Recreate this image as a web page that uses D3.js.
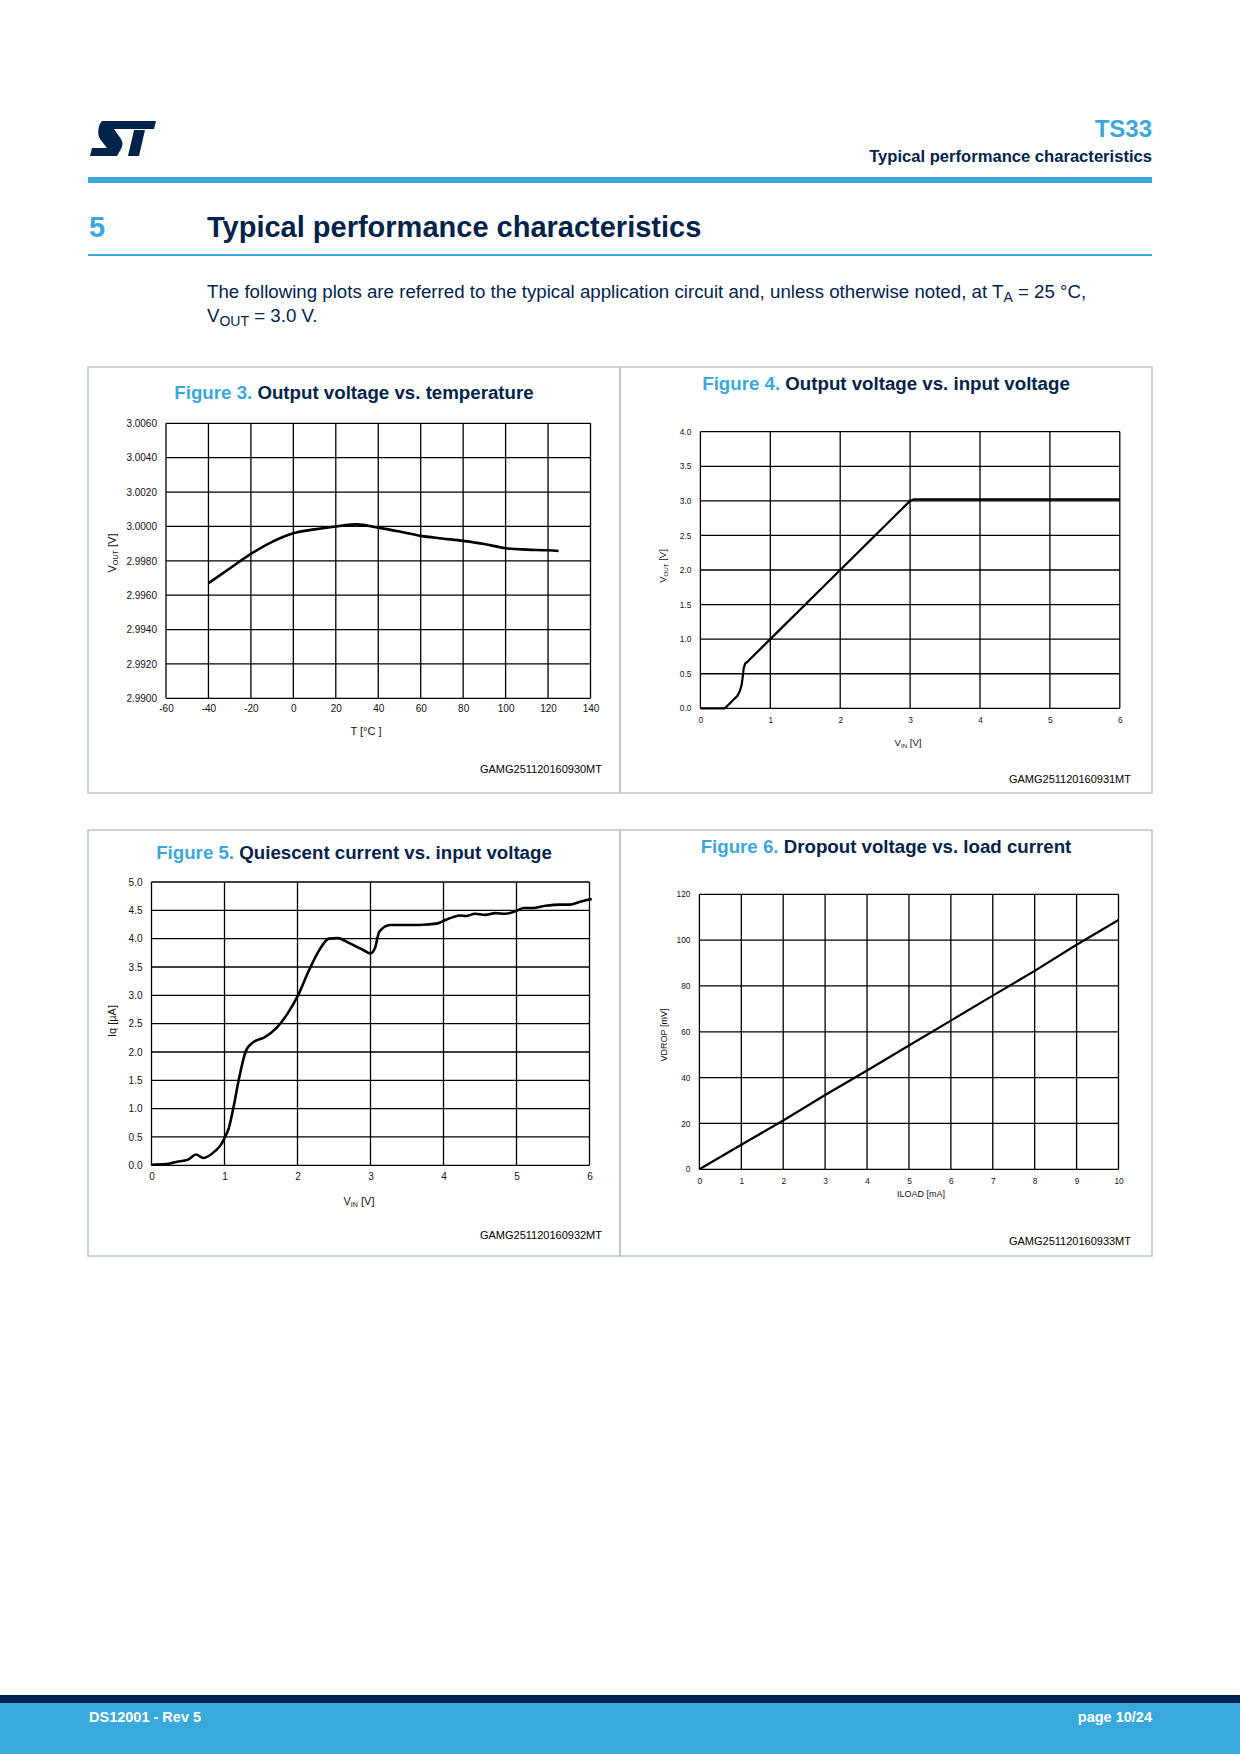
<!DOCTYPE html>
<html>
<head>
<meta charset="utf-8">
<script src="https://cdn.jsdelivr.net/npm/d3@7"></script>
<style>
  body { margin: 0; background: #fff; }
  text { font-family: "Liberation Sans", Arial, sans-serif; }
</style>
</head>
<body>
<div id="page"></div>
<script>
// data
var fig3Temp = [-40, -30, -20, -10, 0, 10, 20, 30, 40, 50, 60, 70, 80, 90, 100, 110, 120, 125];
var fig3Vout = [2.9967, 2.99755, 2.9984, 2.9991, 2.9996, 2.99983, 3.0000, 3.00012, 2.99993, 2.9997, 2.99945, 2.9993, 2.99916, 2.99898, 2.99873, 2.99865, 2.99861, 2.99857];
var fig3XTicks = [-60, -40, -20, 0, 20, 40, 60, 80, 100, 120, 140];
var fig3YTicks = [2.990, 2.992, 2.994, 2.996, 2.998, 3.000, 3.002, 3.004, 3.006];

var fig4Vin = [0, 0.35, 0.42, 0.48, 0.53, 0.565, 0.59, 0.605, 0.62, 0.64, 0.67, 1.0, 2.0, 3.0, 3.05, 4.0, 5.0, 6.0];
var fig4Vout = [0, 0, 0.07, 0.13, 0.18, 0.25, 0.34, 0.45, 0.58, 0.645, 0.67, 1.0, 2.0, 3.0, 3.02, 3.02, 3.02, 3.02];
var fig4XTicks = [0, 1, 2, 3, 4, 5, 6];
var fig4YTicks = [0, 0.5, 1.0, 1.5, 2.0, 2.5, 3.0, 3.5, 4.0];

var fig5Vin = [0, 0.2, 0.34, 0.5, 0.61, 0.71, 0.87, 0.95, 1.0, 1.06, 1.13, 1.2, 1.29, 1.38, 1.55, 1.71, 1.87, 2.0, 2.15, 2.29, 2.43, 2.55, 2.71, 2.9, 3.0, 3.06, 3.12, 3.27, 3.55, 3.78, 3.92, 4.01, 4.13, 4.23, 4.31, 4.43, 4.57, 4.71, 4.85, 5.0, 5.1, 5.22, 5.4, 5.59, 5.73, 5.87, 6.03];
var fig5Iq = [0.01, 0.02, 0.06, 0.1, 0.19, 0.13, 0.25, 0.36, 0.48, 0.66, 1.07, 1.54, 2.01, 2.16, 2.26, 2.42, 2.69, 2.98, 3.42, 3.78, 4.0, 4.01, 3.92, 3.8, 3.74, 3.83, 4.12, 4.24, 4.24, 4.25, 4.27, 4.32, 4.38, 4.41, 4.4, 4.44, 4.42, 4.45, 4.44, 4.49, 4.54, 4.54, 4.58, 4.6, 4.6, 4.65, 4.7];
var fig5XTicks = [0, 1, 2, 3, 4, 5, 6];
var fig5YTicks = [0, 0.5, 1.0, 1.5, 2.0, 2.5, 3.0, 3.5, 4.0, 4.5, 5.0];

var fig6Iload = [0, 1, 2, 3, 4, 5, 6, 7, 8, 9, 10];
var fig6Vdrop = [0, 10.7, 21.3, 32.4, 43.1, 54, 64.9, 75.8, 86.6, 98, 108.8];
var fig6XTicks = [0, 1, 2, 3, 4, 5, 6, 7, 8, 9, 10];
var fig6YTicks = [0, 20, 40, 60, 80, 100, 120];

var BLUE = '#3aa8dc', NAVY = '#03234b';

var svg = d3.select('#page').append('svg')
	.attr('width', 1240)
	.attr('height', 1754);

// ---- page header ----
var logo = svg.append('g').attr('transform', 'translate(90,121)').attr('fill', NAVY);
logo.append('path').attr('d', 'M12,0 H66 L64,8 H24 L31,18 C33,21 33,25 31,28 L27,35 H0 L2,27 H17 L10,18 C7,13 8,4 12,0 Z');
logo.append('path').attr('d', 'M44,9 H55 L49,35 H38 Z');
logo.append('path').attr('d', 'M31,35 L36,13 H40 L35,35 Z').attr('fill', '#fff');

svg.append('text').attr('x', 1152).attr('y', 137).attr('text-anchor', 'end')
	.attr('font-size', 24).attr('font-weight', 'bold').attr('fill', BLUE).text('TS33');
svg.append('text').attr('x', 1152).attr('y', 162).attr('text-anchor', 'end')
	.attr('font-size', 16.6).attr('font-weight', 'bold').attr('fill', NAVY).text('Typical performance characteristics');
svg.append('rect').attr('x', 88).attr('y', 177).attr('width', 1064).attr('height', 6).attr('fill', BLUE);

svg.append('text').attr('x', 89).attr('y', 237)
	.attr('font-size', 29).attr('font-weight', 'bold').attr('fill', BLUE).text('5');
svg.append('text').attr('x', 207).attr('y', 237)
	.attr('font-size', 29).attr('font-weight', 'bold').attr('fill', NAVY).text('Typical performance characteristics');
svg.append('rect').attr('x', 88).attr('y', 254).attr('width', 1064).attr('height', 2).attr('fill', BLUE);

var p1 = svg.append('text').attr('x', 207).attr('y', 298).attr('font-size', 18.7).attr('fill', NAVY);
p1.append('tspan').text('The following plots are referred to the typical application circuit and, unless otherwise noted, at T');
p1.append('tspan').attr('dy', 4).attr('font-size', 14).text('A');
p1.append('tspan').attr('dy', -4).text(' = 25 °C,');
var p2 = svg.append('text').attr('x', 207).attr('y', 322).attr('font-size', 18.7).attr('fill', NAVY);
p2.append('tspan').text('V');
p2.append('tspan').attr('dy', 4).attr('font-size', 14).text('OUT');
p2.append('tspan').attr('dy', -4).text(' = 3.0 V.');

// ---- figure boxes ----
var boxes = [[88, 367], [620, 367], [88, 830], [620, 830]];
boxes.forEach(function(b) {
	svg.append('rect').attr('x', b[0]).attr('y', b[1]).attr('width', 532).attr('height', 426)
		.attr('fill', 'none').attr('stroke', '#b9c5cd').attr('stroke-width', 1.5);
});

// ---- footer ----
svg.append('rect').attr('x', 0).attr('y', 1695).attr('width', 1240).attr('height', 8).attr('fill', '#002052');
svg.append('rect').attr('x', 0).attr('y', 1703).attr('width', 1240).attr('height', 51).attr('fill', '#39a9dc');
svg.append('text').attr('x', 89).attr('y', 1722).attr('font-size', 14.5).attr('font-weight', 'bold')
	.attr('fill', '#fff').text('DS12001 - Rev 5');
svg.append('text').attr('x', 1152).attr('y', 1722).attr('text-anchor', 'end').attr('font-size', 14.5)
	.attr('font-weight', 'bold').attr('fill', '#fff').text('page 10/24');

// ---- chart drawing ----
function addLabel(sel, parts) {
	// parts: [text, isSub, backUp]
	parts.forEach(function(p) {
		var t = sel.append('tspan').text(p[0]);
		if (p[1]) t.attr('font-size', '0.65em').attr('dy', '0.25em');
		else if (p[2]) t.attr('dy', '-0.16em');
	});
}

function intFmt(d) { return String(d); } // plain hyphen for negatives

function drawChart(c) {
	var x = d3.scaleLinear().domain(c.xDomain).range([c.left, c.right]);
	var y = d3.scaleLinear().domain(c.yDomain).range([c.bottom, c.top]);
	var g = svg.append('g');

	g.append('text').attr('x', c.titleX).attr('y', c.titleY).attr('text-anchor', 'middle')
		.attr('font-size', 18.7).attr('font-weight', 'bold')
		.call(function(t) {
			t.append('tspan').attr('fill', BLUE).text(c.figNo + ' ');
			t.append('tspan').attr('fill', NAVY).text(c.title);
		});

	// grid
	g.selectAll('.vg').data(c.xTicks).enter().append('line')
		.attr('x1', function(d) { return x(d); }).attr('x2', function(d) { return x(d); })
		.attr('y1', c.top).attr('y2', c.bottom)
		.attr('stroke', '#000').attr('stroke-width', 1.3);
	g.selectAll('.hg').data(c.yTicks).enter().append('line')
		.attr('x1', c.left).attr('x2', c.right)
		.attr('y1', function(d) { return y(d); }).attr('y2', function(d) { return y(d); })
		.attr('stroke', '#000').attr('stroke-width', 1.3);

	// tick labels through d3 axes
	var xa = g.append('g').attr('transform', 'translate(0,' + c.bottom + ')')
		.call(d3.axisBottom(x).tickValues(c.xTicks).tickSize(0).tickPadding(c.xPad).tickFormat(c.xFmt));
	var ya = g.append('g').attr('transform', 'translate(' + c.left + ',0)')
		.call(d3.axisLeft(y).tickValues(c.yTicks).tickSize(0).tickPadding(9).tickFormat(c.yFmt));
	[xa, ya].forEach(function(a) {
		a.select('.domain').remove();
		a.attr('font-family', null).attr('font-size', null);
		a.selectAll('text').attr('font-family', c.tickFont).attr('font-size', c.tickSize).attr('fill', '#111');
	});

	// axis titles
	var xt = g.append('text').attr('x', c.xTitle[0]).attr('y', c.xTitle[1]).attr('text-anchor', 'middle')
		.attr('font-family', c.labelFont).attr('font-size', c.labelSize).attr('fill', '#111');
	addLabel(xt, c.xLabel);
	var yt = g.append('text').attr('text-anchor', 'middle')
		.attr('transform', 'translate(' + c.yTitle[0] + ',' + c.yTitle[1] + ') rotate(-90)')
		.attr('font-family', c.labelFont).attr('font-size', c.labelSize).attr('fill', '#111');
	addLabel(yt, c.yLabel);

	// curves
	c.series.forEach(function(s) {
		var pts = s.x.map(function(v, i) { return [v, s.y[i]]; });
		g.append('path').datum(pts)
			.attr('fill', 'none').attr('stroke', s.color || '#000').attr('stroke-width', s.width)
			.attr('stroke-linejoin', 'round')
			.attr('d', d3.line().x(function(d) { return x(d[0]); }).y(function(d) { return y(d[1]); }).curve(s.curve));
	});

	g.append('text').attr('x', c.codeX).attr('y', c.codeY).attr('text-anchor', 'end')
		.attr('font-size', 11).attr('fill', '#000').text(c.code);
}

drawChart({
	figNo: 'Figure 3.', title: 'Output voltage vs. temperature', titleX: 354, titleY: 399,
	left: 166, right: 590.5, top: 423.3, bottom: 698.3,
	xDomain: [-60, 140], yDomain: [2.990, 3.006], xTicks: fig3XTicks, yTicks: fig3YTicks,
	xFmt: intFmt, yFmt: d3.format('.4f'), xPad: 7,
	tickFont: '"Liberation Sans", Arial, sans-serif', tickSize: 10,
	labelFont: '"Liberation Sans", Arial, sans-serif', labelSize: 11,
	xTitle: [366, 735], xLabel: [['T [°C ]']],
	yTitle: [116, 553], yLabel: [['V'], ['OUT', true], [' [V]', false, true]],
	series: [{ x: fig3Temp, y: fig3Vout, width: 2.6, curve: d3.curveMonotoneX }],
	code: 'GAMG251120160930MT', codeX: 602, codeY: 773
});

drawChart({
	figNo: 'Figure 4.', title: 'Output voltage vs. input voltage', titleX: 886, titleY: 390,
	left: 700.4, right: 1119.8, top: 431.7, bottom: 708.3,
	xDomain: [0, 6], yDomain: [0, 4], xTicks: fig4XTicks, yTicks: fig4YTicks,
	xFmt: intFmt, yFmt: d3.format('.1f'), xPad: 9,
	tickFont: '"DejaVu Sans", Verdana, sans-serif', tickSize: 8.3,
	labelFont: '"DejaVu Sans", Verdana, sans-serif', labelSize: 9.5,
	xTitle: [908, 746], xLabel: [['V'], ['IN', true], [' [V]', false, true]],
	yTitle: [666, 566], yLabel: [['V'], ['OUT', true], [' [V]', false, true]],
	series: [
		{ x: fig4Vin, y: fig4Vout, width: 2.2, curve: d3.curveLinear }
	],
	code: 'GAMG251120160931MT', codeX: 1131, codeY: 783
});

drawChart({
	figNo: 'Figure 5.', title: 'Quiescent current vs. input voltage', titleX: 354, titleY: 859,
	left: 151.5, right: 589.5, top: 882, bottom: 1165.3,
	xDomain: [0, 6], yDomain: [0, 5], xTicks: fig5XTicks, yTicks: fig5YTicks,
	xFmt: intFmt, yFmt: d3.format('.1f'), xPad: 8,
	tickFont: '"Liberation Sans", Arial, sans-serif', tickSize: 10,
	labelFont: '"Liberation Sans", Arial, sans-serif', labelSize: 11,
	xTitle: [359, 1205], xLabel: [['V'], ['IN', true], [' [V]', false, true]],
	yTitle: [116, 1021], yLabel: [['Iq [µA]']],
	series: [{ x: fig5Vin, y: fig5Iq, width: 2.6, curve: d3.curveMonotoneX }],
	code: 'GAMG251120160932MT', codeX: 602, codeY: 1239
});

drawChart({
	figNo: 'Figure 6.', title: 'Dropout voltage vs. load current', titleX: 886, titleY: 853,
	left: 699.4, right: 1118.5, top: 894.3, bottom: 1169.3,
	xDomain: [0, 10], yDomain: [0, 120], xTicks: fig6XTicks, yTicks: fig6YTicks,
	xFmt: intFmt, yFmt: intFmt, xPad: 9,
	tickFont: '"DejaVu Sans", Verdana, sans-serif', tickSize: 8.3,
	labelFont: '"DejaVu Sans", Verdana, sans-serif', labelSize: 9,
	xTitle: [921, 1197], xLabel: [['ILOAD [mA]']],
	yTitle: [667, 1035], yLabel: [['VDROP [mV]']],
	series: [{ x: fig6Iload, y: fig6Vdrop, width: 2.2, curve: d3.curveLinear }],
	code: 'GAMG251120160933MT', codeX: 1131, codeY: 1245
});
</script>
</body>
</html>
